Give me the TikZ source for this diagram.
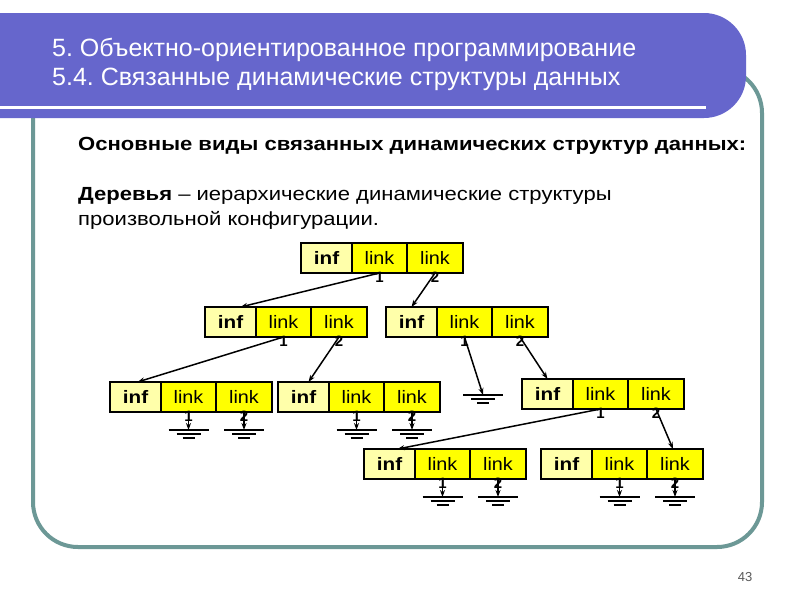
\documentclass[tikz,border=0pt]{standalone}
\usepackage{fontspec}
\setmainfont{Liberation Sans}
\usetikzlibrary{arrows.meta}
\frenchspacing
\definecolor{band}{RGB}{102,102,204}
\definecolor{framec}{RGB}{108,152,150}
\definecolor{infy}{RGB}{255,255,170}
\definecolor{linky}{RGB}{255,255,0}
\definecolor{pgnum}{RGB}{90,90,90}
\newcommand\record[3]{%
 \node[infc] (#1i) at (#2,#3) {\tinf};
 \node[linka] (#1a) at (#1i.north east) {\tlink};
 \node[linkb] (#1b) at (#1a.north east) {\tlink};
 \node[dig] (#1a1) at ([yshift=-4pt]#1a.south) {1};
 \node[dig] (#1b2) at ([yshift=-4pt]#1b.south) {2};}
\newcommand\tinf{\scalebox{1.15}[1]{inf}}
\newcommand\tlink{\scalebox{1.1}[1]{link}}
\newcommand\groundat[1]{%
 \draw[gnd] ([xshift=-20pt]#1) -- ([xshift=20pt]#1)
   ([xshift=-12pt,yshift=-4pt]#1) -- ([xshift=12pt,yshift=-4pt]#1)
   ([xshift=-6pt,yshift=-8pt]#1) -- ([xshift=6pt,yshift=-8pt]#1);}
\newcommand\nullptr[1]{%
 \coordinate (#1g) at ([yshift=-18pt]#1.south);
 \draw[ptr] (#1.south) -- (#1g);
 \groundat{#1g}}
\begin{document}
\begin{tikzpicture}[x=1pt,y=-1pt,
 cell/.style={draw=black, line width=2.5pt, minimum height=30pt, inner sep=0pt, outer sep=0pt, anchor=north west},
 infc/.style={cell, fill=infy, minimum width=51pt, font=\bfseries\fontsize{18}{18}\selectfont},
 linka/.style={cell, fill=linky, minimum width=55pt, font=\fontsize{18}{18}\selectfont},
 linkb/.style={cell, fill=linky, minimum width=56pt, font=\fontsize{18}{18}\selectfont},
 dig/.style={font=\bfseries\fontsize{15}{15}\selectfont, inner sep=0pt},
 ptr/.style={line width=1.5pt, -{Stealth[length=7pt,width=5pt]}},
 gnd/.style={line width=1.5pt},
 title/.style={anchor=base west, text=white, font=\fontsize{25}{25}\selectfont, inner sep=0pt},
 body/.style={anchor=base west, font=\fontsize{19}{19}\selectfont, inner sep=0pt, xscale=1.16}
]
\useasboundingbox (0,0) rectangle (800,600);
\clip (0,0) rectangle (800,600);
\fill[white] (0,0) rectangle (800,600);
% frame
\draw[framec, line width=4pt, rounded corners=45pt] (33,68) rectangle (762,547);
% header band
\fill[band, rounded corners=42pt] (-60,13) -- (746,13) -- (746,118) -- (-60,118) -- cycle;
\draw[white, line width=3pt] (0,107) -- (706,107);
\node[title] (t1) at (52,56) {5. Объектно-ориентированное программирование};
\node[title] (t2) at (52,85) {5.4. Связанные динамические структуры данных};
% body text
\node[body, font=\bfseries\fontsize{19}{19}\selectfont] (b1) at (78,150) {Основные виды связанных динамических структур данных:};
\node[body] (b2) at (78,200) {\textbf{Деревья} – иерархические динамические структуры};
\node[body] (b3) at (78,225) {произвольной конфигурации.};
% records
\record{n1}{301}{243}
\record{n2}{205}{307}
\record{n3}{386}{307}
\record{n4}{110}{382}
\record{n5}{278}{382}
\record{n6}{522}{379}
\record{n7}{364}{449}
\record{n8}{541}{449}
% pointers
\draw[ptr] (n1a.south) -- ([xshift=10pt]n2i.north);
\draw[ptr] (n1b.south) -- (n3i.north);
\draw[ptr] (n2a.south) -- ([xshift=2pt]n4i.north);
\draw[ptr] (n2b.south) -- ([xshift=5pt]n5i.north);
\draw[ptr] (n3b.south) -- (n6i.north);
\draw[ptr] (n6a.south) -- ([xshift=8pt]n7i.north);
\draw[ptr] (n6b.south) -- ([xshift=-2pt]n8b.north);
% null pointers
\coordinate (n3ag) at (483,395);
\draw[ptr] (n3a.south) -- (n3ag);
\groundat{n3ag}
\nullptr{n4a}\nullptr{n4b}
\nullptr{n5a}\nullptr{n5b}
\nullptr{n7a}\nullptr{n7b}
\nullptr{n8a}\nullptr{n8b}
% page number
\node[text=pgnum, font=\fontsize{13}{13}\selectfont, inner sep=0pt] (pg) at (745,577) {43};
\end{tikzpicture}
\end{document}
